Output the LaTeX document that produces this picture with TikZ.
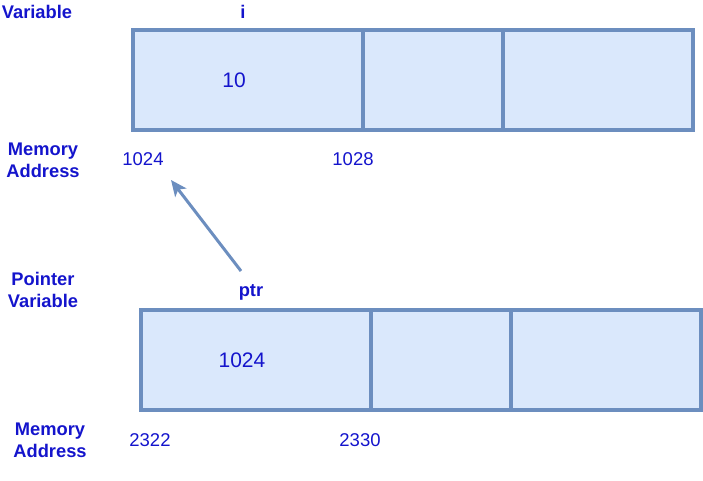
\documentclass[tikz,border=0pt]{standalone}
\usepackage{fontspec}
\setmainfont{Liberation Sans}
\usetikzlibrary{arrows.meta}
\definecolor{cellfill}{RGB}{218, 232, 252}
\definecolor{celldraw}{RGB}{108, 142, 191}
\definecolor{ink}{RGB}{20, 20, 204}

\begin{document}
\begin{tikzpicture}[x=1pt, y=-1pt,
  cell/.style={draw=celldraw, fill=cellfill, line width=3.2pt, minimum height=100pt, inner sep=0pt, outer sep=0pt},
  tag/.style={text=ink, font=\fontsize{18.3}{22}\selectfont\bfseries, align=center, inner sep=0pt},
  addr/.style={text=ink, font=\fontsize{18.5}{21}\selectfont, inner sep=0pt},
  val/.style={text=ink, font=\fontsize{21}{24}\selectfont, inner sep=0pt}]
  \useasboundingbox (0, 0) rectangle (703, 481);

  % Variable i
  \node[cell, minimum width=230pt] (iA) at (248, 80) {};
  \node[cell, minimum width=140pt] (iB) at (433, 80) {};
  \node[cell, minimum width=190pt] (iC) at (598, 80) {};
  \node[val] (ival) at (234, 80) {10};
  \node[tag] (ivar) at (37, 12) {Variable};
  \node[tag] (iname) at (243, 12) {i};
  \node[tag] (imem) at (43, 160) {Memory\\Address};
  \node[addr] (iaddrA) at (143, 159) {1024};
  \node[addr] (iaddrB) at (353, 159) {1028};

  % Pointer ptr
  \node[cell, minimum width=230pt] (pA) at (256, 360) {};
  \node[cell, minimum width=140pt] (pB) at (441, 360) {};
  \node[cell, minimum width=190pt] (pC) at (606, 360) {};
  \node[val] (pval) at (242, 360) {1024};
  \node[tag] (pvar) at (43, 290) {Pointer\\Variable};
  \node[tag] (pname) at (251, 292) {ptr};
  \node[tag] (pmem) at (50, 440) {Memory\\Address};
  \node[addr] (paddrA) at (150, 440) {2322};
  \node[addr] (paddrB) at (360, 440) {2330};

  % Arrow
  \coordinate (ptrtail) at (241, 271);
  \coordinate (ptrhead) at (171, 180);
  \draw[-{Stealth[length=16pt, width=14pt, inset=4pt]}, celldraw, line width=3pt] (ptrtail) -- (ptrhead);
\end{tikzpicture}
\end{document}
